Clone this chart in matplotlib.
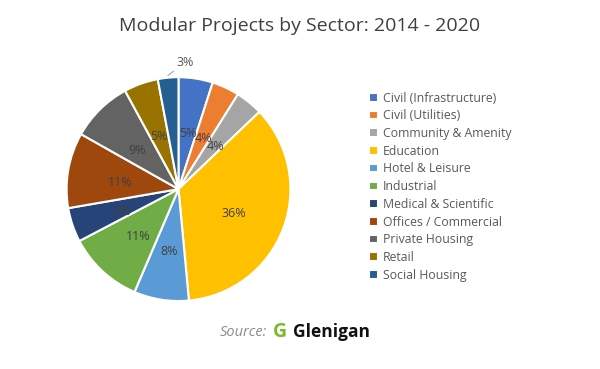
import matplotlib.pyplot as plt
import numpy as np

sectors = ["Civil (Infrastructure)", "Civil (Utilities)", "Community & Amenity",
           "Education", "Hotel & Leisure", "Industrial", "Medical & Scientific",
           "Offices / Commercial", "Private Housing", "Retail", "Social Housing"]
shares = [5, 4, 4, 36, 8, 11, 5, 11, 9, 5, 3]
colors = ["#4472C4", "#ED7D31", "#A5A5A5", "#FFC000", "#5B9BD5", "#70AD47",
          "#264478", "#9E480E", "#636363", "#997300", "#255E91"]

plt.rcParams['font.family'] = ['Open Sans', 'DejaVu Sans']

fig = plt.figure(figsize=(6, 3.69), dpi=100)
ax = fig.add_axes([0.111, 0.184, 0.373, 0.607])

wedges, _ = ax.pie(shares, colors=colors, startangle=90, counterclock=False,
                   wedgeprops=dict(edgecolor="white", linewidth=1.5))
ax.set_xlim(-1, 1)
ax.set_ylim(-1, 1)
ax.set_aspect('equal')

# percentage labels
for i, (w, v) in enumerate(zip(wedges, shares)):
    mid = np.deg2rad((w.theta1 + w.theta2) / 2)
    if i == len(shares) - 1:
        ax.annotate(f"{v}%", xy=(np.cos(mid) * 1.02, np.sin(mid) * 1.02),
                    xytext=(0.06, 1.13), ha="center", va="center",
                    fontsize=9, color="#595959", annotation_clip=False,
                    arrowprops=dict(arrowstyle="-", color="#A6A6A6", lw=0.8,
                                    shrinkA=7, shrinkB=0))
        continue
    r = 0.53
    ax.text(np.cos(mid) * r, np.sin(mid) * r - 0.03, f"{v}%", ha="center",
            va="center", fontsize=9, color="#404040")

fig.text(0.5, 0.93, "Modular Projects by Sector: 2014 - 2020", ha="center",
         va="center", fontsize=14, color="#404040")

fig.legend(wedges, sectors, loc="upper left", bbox_to_anchor=(0.607, 0.765),
           frameon=False, fontsize=8.8, labelcolor="#595959",
           handlelength=0.7, handleheight=0.7, handletextpad=0.45,
           labelspacing=0.385, borderaxespad=0)

fig.text(0.445, 0.1, "Source:", ha="right", va="center", fontsize=10.5,
         style="italic", color="#8C8C8C")
fig.text(0.455, 0.1, "G", ha="left", va="center", fontsize=14,
         fontweight="bold", color="#7AB929")
fig.text(0.488, 0.1, "Glenigan", ha="left", va="center", fontsize=12.5,
         fontweight="bold", color="#111111")

fig.savefig("out.png", dpi=100)
